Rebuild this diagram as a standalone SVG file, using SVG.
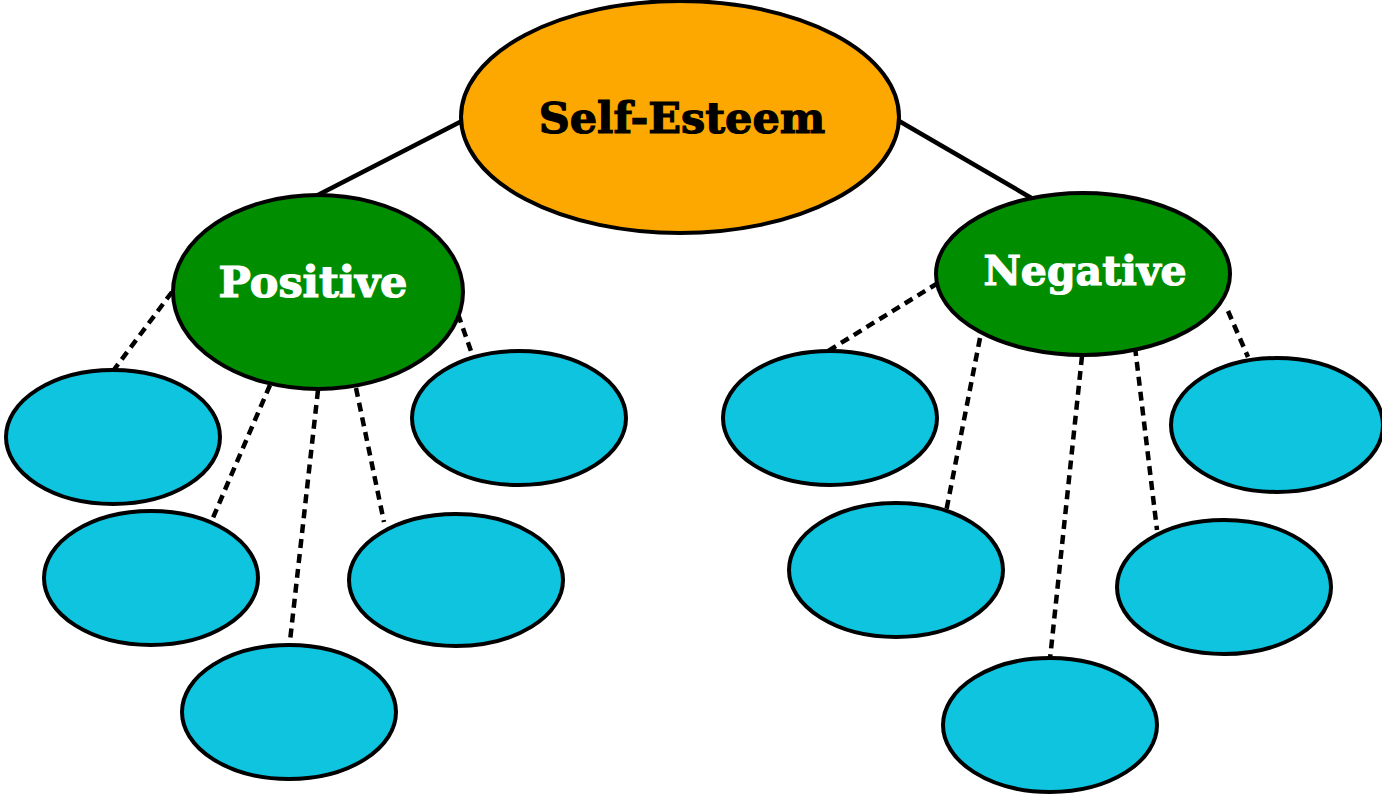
<svg xmlns="http://www.w3.org/2000/svg" width="1382" height="797" viewBox="0 0 1382 797">
<style>
.solid{stroke:#000;stroke-width:4.5;fill:none}
.dash{stroke:#000;stroke-width:4.5;fill:none;stroke-dasharray:9 6}
.top{fill:#FDA800;stroke:#000;stroke-width:4}
.mid{fill:#008E00;stroke:#000;stroke-width:4}
.leaf{fill:#0EC4DE;stroke:#000;stroke-width:4}
.lbl{font-family:"DejaVu Serif","Liberation Serif",serif;font-weight:bold;text-anchor:middle;stroke-width:1.2}
</style>
<rect width="1382" height="797" fill="#fff"/>
<g id="connectors">
<line class="solid" x1="462" y1="121" x2="316" y2="196"/>
<line class="solid" x1="899" y1="121" x2="1040" y2="203"/>
<line class="dash" x1="172" y1="292" x2="113" y2="371"/>
<line class="dash" x1="270" y1="385" x2="212" y2="520"/>
<line class="dash" x1="318" y1="390" x2="290" y2="641"/>
<line class="dash" x1="356" y1="388" x2="384" y2="522"/>
<line class="dash" x1="458" y1="314" x2="472" y2="354"/>
<line class="dash" x1="938" y1="283" x2="828" y2="351"/>
<line class="dash" x1="980" y1="338" x2="946" y2="512"/>
<line class="dash" x1="1082" y1="356" x2="1050" y2="659"/>
<line class="dash" x1="1135" y1="347" x2="1157" y2="530"/>
<line class="dash" x1="1228" y1="311" x2="1248" y2="357"/>
</g>
<g id="self-esteem"><ellipse class="top" cx="680" cy="117" rx="219" ry="116"/><text class="lbl" x="682" y="133" font-size="43" fill="#000" stroke="#000">Self-Esteem</text></g>
<g id="positive"><ellipse class="mid" cx="318" cy="292" rx="145" ry="97"/><text class="lbl" x="313" y="297" font-size="43" fill="#fff" stroke="#fff">Positive</text></g>
<g id="negative"><ellipse class="mid" cx="1083" cy="274" rx="147" ry="81"/><text class="lbl" x="1085" y="285" font-size="41" fill="#fff" stroke="#fff">Negative</text></g>
<g id="p1"><ellipse class="leaf" cx="113" cy="437" rx="107" ry="67"/></g>
<g id="p2"><ellipse class="leaf" cx="151" cy="578" rx="107" ry="67"/></g>
<g id="p3"><ellipse class="leaf" cx="289" cy="712" rx="107" ry="67"/></g>
<g id="p4"><ellipse class="leaf" cx="456" cy="580" rx="107" ry="66"/></g>
<g id="p5"><ellipse class="leaf" cx="519" cy="418" rx="107" ry="67"/></g>
<g id="n1"><ellipse class="leaf" cx="830" cy="418" rx="107" ry="67"/></g>
<g id="n2"><ellipse class="leaf" cx="896" cy="570" rx="107" ry="67"/></g>
<g id="n3"><ellipse class="leaf" cx="1050" cy="725" rx="107" ry="67"/></g>
<g id="n4"><ellipse class="leaf" cx="1224" cy="587" rx="107" ry="67"/></g>
<g id="n5"><ellipse class="leaf" cx="1277" cy="425" rx="106" ry="67"/></g>
</svg>
